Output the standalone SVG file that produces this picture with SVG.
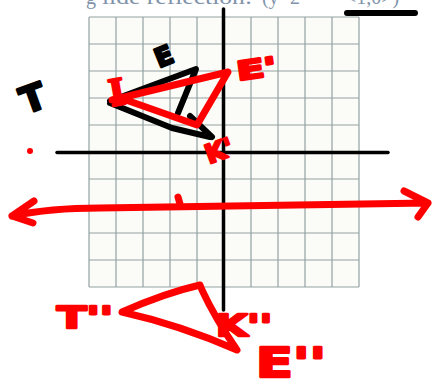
<svg xmlns="http://www.w3.org/2000/svg" width="432" height="379" viewBox="0 0 432 379">
<style>
.grid{stroke:#93a2a2;stroke-width:1.2;fill:none}
.ax{stroke:#000;stroke-width:3.5;stroke-linecap:round;fill:none}
.red{stroke:#ff0000;stroke-width:7;stroke-linecap:round;stroke-linejoin:round;fill:none}
.blk{stroke:#000;stroke-width:6;stroke-linecap:round;stroke-linejoin:round;fill:none}
.lr{font-family:"DejaVu Sans",sans-serif;font-weight:bold;fill:#ff0000;stroke:#ff0000;stroke-width:2.5;stroke-linejoin:round}
.lb{font-family:"DejaVu Sans",sans-serif;font-weight:bold;fill:#000;stroke:#000;stroke-width:2.5;stroke-linejoin:round}
.top{font-family:"Liberation Serif",serif;font-size:20px;fill:#7f93aa}
</style>
<rect width="432" height="379" fill="#fff"/>
<g id="title">
<text class="top" y="4"><tspan x="86">g</tspan><tspan x="102" textLength="150" lengthAdjust="spacingAndGlyphs">lide reflection:</tspan><tspan x="262">(y=2</tspan><tspan x="300">‾</tspan><tspan x="345">&lt;1,0&gt;)</tspan></text>
<line class="ax" x1="347" y1="13" x2="415" y2="13" style="stroke-width:6"/>
</g>
<g id="grid">
<rect x="89" y="17" width="270" height="270" fill="#fbfbf7"/>
<path class="grid" d="M89 17V287M116 17V287M143 17V287M170 17V287M197 17V287M224 17V287M251 17V287M278 17V287M305 17V287M332 17V287M359 17V287M89 17H359M89 44H359M89 71H359M89 98H359M89 125H359M89 152H359M89 179H359M89 206H359M89 233H359M89 260H359M89 287H359"/>
</g>
<g id="axes">
<line class="ax" x1="57" y1="152.5" x2="388" y2="152.5"/>
<line class="ax" x1="223.5" y1="9" x2="223.5" y2="310"/>
</g>
<g id="triangle-TEK">
<path class="blk" d="M110 101L196 69L178 113M110 103L172 128L210 137M190 116L212 137"/>
</g>
<g id="triangle-prime">
<path class="red" d="M112 100L228 72L197 125L126 100Z"/>
</g>
<g id="triangle-double-prime">
<path class="red" d="M122 312Q165 293 200 285L202 290Q215 318 237 350Q180 325 122 312Z"/>
</g>
<g id="connectors">
<path class="red" d="M12 216Q50 208 100 208L428 203M12 216L34 201M12 216L33 223M428 203L404 191M428 203L418 217"/>
<path class="red" d="M178 197L180 204"/>
<circle cx="30" cy="151" r="3" fill="#ff0000"/>
</g>
<g id="labels">
<text class="lb" x="20" y="109" font-size="36" transform="rotate(-20 38 95)">T</text>
<text class="lb" x="154" y="62" font-size="26" transform="rotate(-22 172 52)">E</text>
<text class="lr" x="108" y="103" font-size="40" style="font-family:'Liberation Serif',serif" transform="rotate(-10 128 85)">I</text>
<text class="lr" x="236" y="78" font-size="26" textLength="40" lengthAdjust="spacingAndGlyphs" transform="rotate(-8 255 65)">E'</text>
<text class="lr" x="204" y="160" font-size="26" transform="rotate(-20 218 148)">K'</text>
<text class="lr" x="57" y="328" font-size="30" textLength="56" lengthAdjust="spacingAndGlyphs">T''</text>
<text class="lr" x="216" y="336" font-size="30" textLength="56" lengthAdjust="spacingAndGlyphs">K''</text>
<text class="lr" x="256" y="377" font-size="40" textLength="70" lengthAdjust="spacingAndGlyphs">E''</text>
</g>
</svg>
